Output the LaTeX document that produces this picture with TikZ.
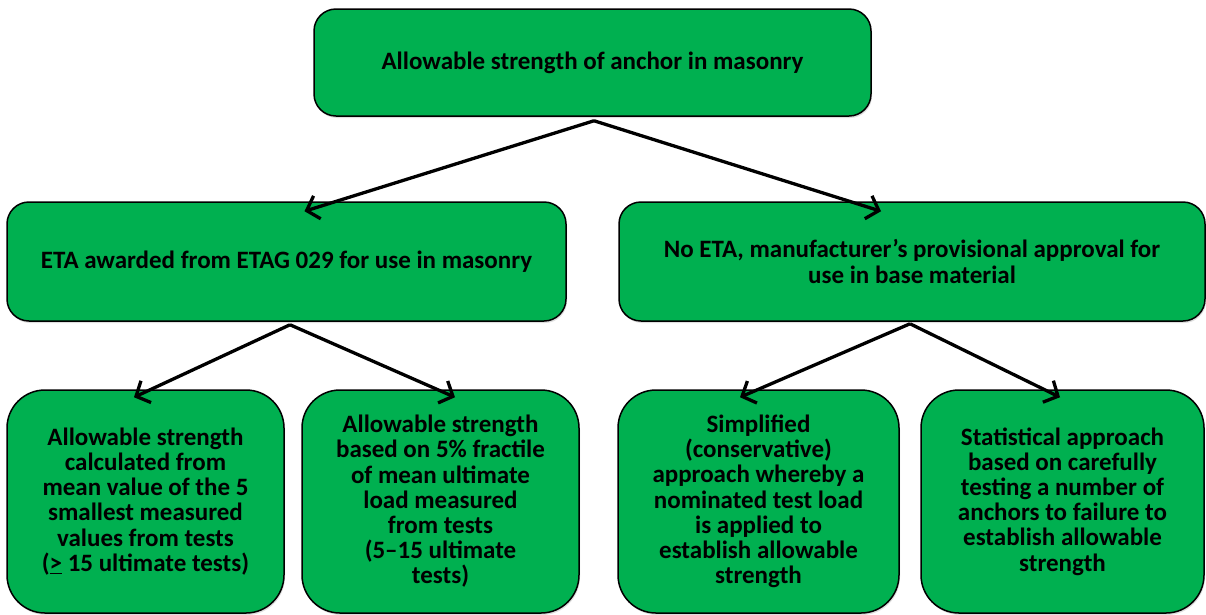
\documentclass[tikz,border=0pt]{standalone}
\usepackage{fontspec}
\setmainfont{Carlito}
\usetikzlibrary{arrows.meta,shadows,calc}
\definecolor{boxgreen}{HTML}{00B050}
\begin{document}
\begin{tikzpicture}[x=1pt,y=-1pt,
  box/.style={draw=black, line width=1.5pt, fill=boxgreen, rounded corners=22pt,
    align=center, inner sep=0pt, font=\bfseries\fontsize{25}{25.2}\selectfont,
    drop shadow={shadow xshift=1pt, shadow yshift=-2pt, opacity=0.25}},
  bigbox/.style={box, rounded corners=38pt},
  conn/.style={line width=3.3pt, -{Straight Barb[length=11pt,width=24pt]}}
]
\useasboundingbox (0,0) rectangle (1206,614);
\node[box, minimum width=557pt, minimum height=107pt] (top) at (592.5,62.5)
  {Allowable strength of anchor in masonry};
\node[box, minimum width=559pt, minimum height=119pt] (etaa) at (286.5,261.5)
  {ETA awarded from ETAG 029 for use in masonry};
\node[box, minimum width=586pt, minimum height=119pt] (noeta) at (912,261.5)
  {No ETA, manufacturer’s provisional approval for\\use in base material};
\node[bigbox, minimum width=277pt, minimum height=223pt] (b1) at (145.5,501.5)
  {Allowable strength\\calculated from\\mean value of the 5\\smallest measured\\values from tests\\(\underline{>} 15 ultimate tests)};
\node[bigbox, minimum width=277pt, minimum height=223pt] (b2) at (440.5,501.5)
  {Allowable strength\\based on 5\% fractile\\of mean ultimate\\load measured\\from tests\\(5--15 ultimate\\tests)};
\node[bigbox, minimum width=281pt, minimum height=223pt] (b3) at (758.5,501.5)
  {Simplified\\(conservative)\\approach whereby a\\nominated test load\\is applied to\\establish allowable\\strength};
\node[bigbox, minimum width=283pt, minimum height=223pt] (b4) at (1062.5,501.5)
  {Statistical approach\\based on carefully\\testing a number of\\anchors to failure to\\establish allowable\\strength};
% connectors
\draw[conn] ([xshift=1.5pt,yshift=-4pt]top.south) -- ([xshift=18pt,yshift=-10pt]etaa.north);
\draw[conn] ([xshift=1.5pt,yshift=-4pt]top.south) -- ([xshift=-31pt,yshift=-10pt]noeta.north);
\draw[conn] ([xshift=3.5pt,yshift=-3pt]etaa.south) -- ([xshift=-11.5pt,yshift=-8pt]b1.north);
\draw[conn] ([xshift=3.5pt,yshift=-3pt]etaa.south) -- ([xshift=14.5pt,yshift=-8pt]b2.north);
\draw[conn] ([xshift=-2pt,yshift=-2pt]noeta.south) -- ([xshift=-18.5pt,yshift=-8pt]b3.north);
\draw[conn] ([xshift=-2pt,yshift=-2pt]noeta.south) -- ([xshift=-2.5pt,yshift=-8pt]b4.north);
\end{tikzpicture}
\end{document}
